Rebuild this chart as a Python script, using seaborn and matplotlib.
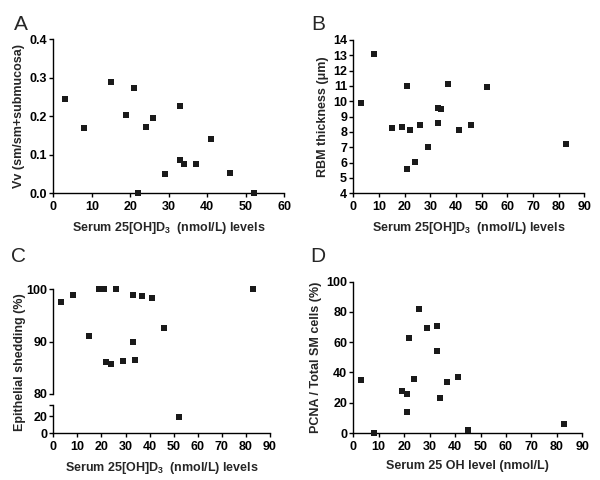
import matplotlib
matplotlib.use("Agg")
import matplotlib.pyplot as plt
import seaborn as sns
import pandas as pd

# ---- data ----
A_x = [3, 8, 15, 19, 21, 22, 24, 26, 29, 33, 33, 34, 37, 41, 46, 52]
A_y = [0.245, 0.169, 0.288, 0.203, 0.273, 0.0, 0.172, 0.196, 0.049, 0.226,
       0.087, 0.075, 0.076, 0.141, 0.053, 0.0]

B_x = [3, 8, 15, 19, 21, 21, 22, 24, 26, 29, 33, 33, 34, 37, 41, 46, 52, 83]
B_y = [9.87, 13.07, 8.28, 8.33, 10.98, 5.57, 8.15, 6.04, 8.46, 7.04, 8.57,
       9.59, 9.50, 11.15, 8.15, 8.43, 10.96, 7.24]

C_x = [3, 8, 15, 19, 21, 22, 24, 26, 29, 33, 33, 34, 37, 41, 46, 52, 83]
C_y = [97.6, 98.9, 91.0, 100, 100, 86.1, 85.8, 100, 86.3, 98.9, 89.9, 86.5,
       98.7, 98.2, 92.5, 18.8, 100]

D_x = [3, 8, 19, 21, 21, 22, 24, 26, 29, 33, 33, 34, 37, 41, 45, 83]
D_y = [35.0, 0, 27.5, 26, 13.9, 63, 35.7, 81.9, 69.2, 70.5, 54, 22.9, 33.5,
       37, 1.8, 5.7]

XLAB = r"Serum 25[OH]D$_{\mathbf{3}}$  (nmol/L) levels"

sns.set_style("ticks")
plt.rcParams["font.family"] = ["Liberation Sans", "DejaVu Sans"]
plt.rcParams["mathtext.fontset"] = "custom"
plt.rcParams["mathtext.rm"] = "Liberation Sans"
plt.rcParams["mathtext.bf"] = "Liberation Sans:bold"
plt.rcParams["axes.linewidth"] = 1.0
plt.rcParams["xtick.major.width"] = 1.0
plt.rcParams["ytick.major.width"] = 1.0
plt.rcParams["xtick.major.size"] = 3
plt.rcParams["ytick.major.size"] = 3
plt.rcParams["xtick.major.pad"] = 2.5
plt.rcParams["ytick.major.pad"] = 1.5

fig = plt.figure(figsize=(6, 4.8), dpi=100)
W, H = 600.0, 480.0


def add_ax(l, r, t, b):
    return fig.add_axes([l / W, (H - b) / H, (r - l) / W, (b - t) / H])


FS = 9
LFS = 9
MS = 24
XPAD = 5
YPAD = 3


def style(ax):
    sns.despine(ax=ax)
    for s in ["left", "bottom"]:
        ax.spines[s].set_color("black")
    ax.tick_params(colors="black", labelsize=FS)
    for lab in ax.get_xticklabels() + ax.get_yticklabels():
        lab.set_fontweight("bold")


def scat(ax, x, y, clip=False):
    df = pd.DataFrame({"x": x, "y": y})
    sns.scatterplot(data=df, x="x", y="y", ax=ax, marker="s", s=MS,
                    color="#1a1a1a", linewidth=0, clip_on=clip, zorder=3)
    ax.set_xlabel("")
    ax.set_ylabel("")


# ---- A ----
axA = add_ax(53.3, 284.3, 39.3, 193)
scat(axA, A_x, A_y)
axA.set_xlim(0, 60)
axA.set_ylim(0, 0.4)
axA.set_xticks(range(0, 61, 10))
axA.set_yticks([0, 0.1, 0.2, 0.3, 0.4])
axA.set_yticklabels(["0.0", "0.1", "0.2", "0.3", "0.4"])
style(axA)
axA.set_xlabel(XLAB, fontsize=LFS, fontweight="bold", labelpad=XPAD)
axA.set_ylabel("Vv (sm/sm+submucosa)", fontsize=LFS, fontweight="bold", labelpad=YPAD)

# ---- B ----
axB = add_ax(353.3, 584.3, 40, 193.3)
scat(axB, B_x, B_y)
axB.set_xlim(0, 90)
axB.set_ylim(4, 14)
axB.set_xticks(range(0, 91, 10))
axB.set_yticks(range(4, 15))
style(axB)
axB.set_xlabel(XLAB, fontsize=LFS, fontweight="bold", labelpad=XPAD)
axB.set_ylabel("RBM thickness (\u03bcm)", fontsize=LFS, fontweight="bold", labelpad=YPAD)

# ---- C (broken axis) ----
cdf = pd.DataFrame({"x": C_x, "y": C_y})
up = cdf[cdf["y"] >= 50]
lo = cdf[cdf["y"] < 50]
axCu = add_ax(53.3, 270, 289, 394)
axCl = add_ax(53.3, 270, 405, 433)
scat(axCu, up["x"], up["y"])
scat(axCl, lo["x"], lo["y"])
axCu.set_xlim(0, 90)
axCl.set_xlim(0, 90)
axCu.set_ylim(80, 100)
axCl.set_ylim(0, 33.7)
axCu.set_yticks([80, 90, 100])
axCl.set_yticks([0, 20])
axCl.set_xticks(range(0, 91, 10))
style(axCu)
style(axCl)
axCu.spines["bottom"].set_visible(False)
axCu.tick_params(axis="x", bottom=False, labelbottom=False)
# break mark at the top end of the lower left spine
axCl.plot([0], [33.7], marker=0, color="black", markersize=3,
          mew=1.0, clip_on=False)
axCl.set_xlabel(XLAB, fontsize=LFS, fontweight="bold", labelpad=XPAD)
fig.text(20 / W, 1 - 362 / H, "Epithelial shedding (%)", rotation=90,
         ha="center", va="center", fontsize=LFS, fontweight="bold")

# ---- D ----
axD = add_ax(353.3, 582.3, 281.7, 433)
scat(axD, D_x, D_y)
axD.set_xlim(0, 90)
axD.set_ylim(0, 100)
axD.set_xticks(range(0, 91, 10))
axD.set_yticks(range(0, 101, 20))
style(axD)
axD.set_xlabel("Serum 25 OH level (nmol/L)", fontsize=LFS, fontweight="bold", labelpad=XPAD)
axD.set_ylabel("PCNA / Total SM cells (%)", fontsize=LFS, fontweight="bold", labelpad=YPAD)

# panel letters
for lbl, x, y in [("A", 21, 25), ("B", 318, 24), ("C", 18, 256), ("D", 318, 257)]:
    fig.text(x / W, 1 - y / H, lbl, ha="center", va="center", fontsize=15)

fig.savefig("out.png", dpi=100)
